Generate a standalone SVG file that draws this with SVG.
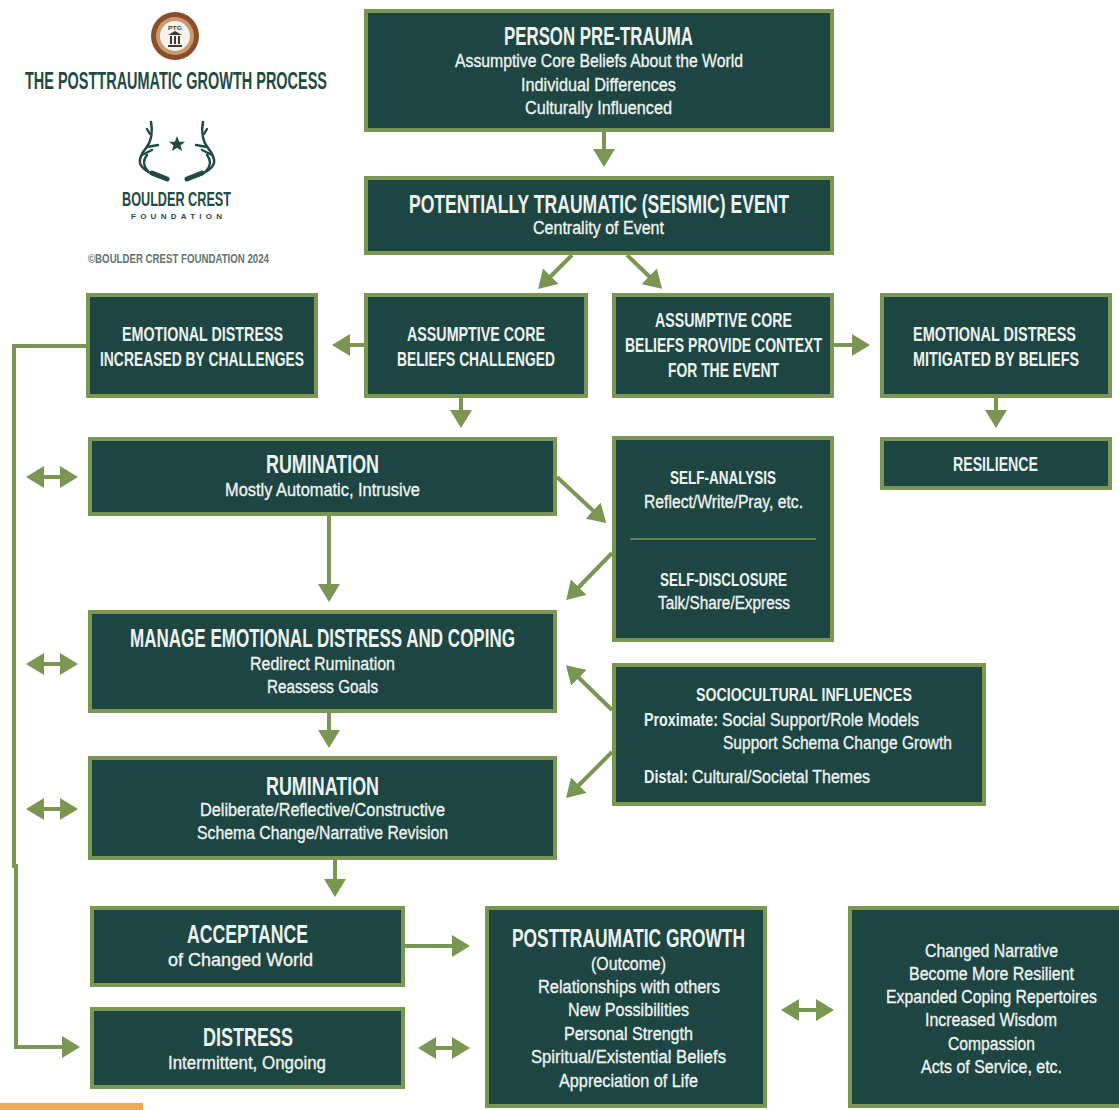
<svg xmlns="http://www.w3.org/2000/svg" width="1119" height="1110" viewBox="0 0 1119 1110">
<style>
.box{fill:#1d4541;stroke:#7b9553;stroke-width:4}
text{font-family:"Liberation Sans",Arial,sans-serif;fill:#eef3f0;text-anchor:start}
.h{font-weight:700;font-size:25px}
.m{font-weight:700;font-size:21px}
.s{font-size:19px;stroke:#eef3f0;stroke-width:.35px}
.b{font-weight:700;font-size:19px}
.l{fill:#1f4a45;font-weight:700}
.c{fill:none;stroke:#7b9553;stroke-width:4}
.ant{fill:none;stroke:#1f4a45;stroke-linecap:round}
</style>
<defs>
<marker id="a" markerUnits="userSpaceOnUse" markerWidth="18" markerHeight="22" refX="4" refY="11" orient="auto-start-reverse"><path d="M0 0L18 11L0 22Z" fill="#7b9553"/></marker>
<g id="antler">
<path class="ant" stroke-width="2.6" d="M151 122C153 132 151 142 146 148C142 153 139 158 140 163C142 170 152 175 166 179"/>
<path class="ant" stroke-width="5" d="M152 173L167 179"/>
<path class="ant" stroke-width="2.4" d="M147 147L158 145M150 134L147 129M142 155L152 150M148 171C143 166 143 160 147 155"/>
</g>
</defs>
<rect width="1119" height="1110" fill="#fff"/>
<g id="logo">
<circle cx="175" cy="36" r="24" fill="#8a4f28"/>
<circle cx="175" cy="36" r="19" fill="#c89a72"/>
<circle cx="175" cy="36" r="15" fill="#f5f3ee"/>
<path d="M168 47h14v-2h-14zM170 44h2v-8h-2zM174 44h2v-8h-2zM178 44h2v-8h-2zM168 35h14l-7-4z" fill="#3a3a3a"/>
<text x="168" y="30" class="l" textLength="14" lengthAdjust="spacingAndGlyphs" style="font-size:6px;fill:#444">PTG</text>
<text transform="matrix(.8 0 0 1 25 89)" class="l" style="font-size:23px" textLength="377.5" lengthAdjust="spacingAndGlyphs">THE POSTTRAUMATIC GROWTH PROCESS</text>
<use href="#antler"/>
<use href="#antler" transform="matrix(-1 0 0 1 354 0)"/>
<polygon points="177,136 179.2,141.8 185,141.8 180.5,145.5 182.2,151 177,147.7 171.8,151 173.5,145.5 169,141.8 174.8,141.8" fill="#1f4a45"/>
<text transform="matrix(.8 0 0 1 122 206)" class="l" style="font-size:20px" textLength="136.25" lengthAdjust="spacingAndGlyphs">BOULDER CREST</text>
<text x="131" y="219" class="l" style="font-size:8px" textLength="91" lengthAdjust="spacing">FOUNDATION</text>
<text transform="matrix(.8 0 0 1 88 263)" class="l" style="font-size:13px;fill:#64736f" textLength="226.25" lengthAdjust="spacingAndGlyphs">©BOULDER CREST FOUNDATION 2024</text>
</g>
<g id="connectors">
<path class="c" d="M604 132V153" marker-end="url(#a)"/>
<path class="c" d="M572 255L548 279" marker-end="url(#a)"/>
<path class="c" d="M627 255L652 279" marker-end="url(#a)"/>
<path class="c" d="M364 345H346" marker-end="url(#a)"/>
<path class="c" d="M834 345H856" marker-end="url(#a)"/>
<path class="c" d="M461 398V414" marker-end="url(#a)"/>
<path class="c" d="M996 398V414" marker-end="url(#a)"/>
<path class="c" d="M86 346H14V866H16V1047H66" marker-end="url(#a)"/>
<path class="c" d="M40 477H64" marker-start="url(#a)" marker-end="url(#a)"/>
<path class="c" d="M40 664H64" marker-start="url(#a)" marker-end="url(#a)"/>
<path class="c" d="M40 809H64" marker-start="url(#a)" marker-end="url(#a)"/>
<path class="c" d="M329 516V588" marker-end="url(#a)"/>
<path class="c" d="M557 477L596 513.4" marker-end="url(#a)"/>
<path class="c" d="M612 553L576 590" marker-end="url(#a)"/>
<path class="c" d="M612 710L576 675" marker-end="url(#a)"/>
<path class="c" d="M612 752L576 788" marker-end="url(#a)"/>
<path class="c" d="M329 713V734" marker-end="url(#a)"/>
<path class="c" d="M335 860V883" marker-end="url(#a)"/>
<path class="c" d="M405 946H456" marker-end="url(#a)"/>
<path class="c" d="M432 1048H456" marker-start="url(#a)" marker-end="url(#a)"/>
<path class="c" d="M795 1010H820" marker-start="url(#a)" marker-end="url(#a)"/>
</g>
<g id="n1"><rect class="box" x="366" y="11" width="466" height="119"/>
<text class="h" transform="matrix(.8 0 0 1 504 45)" textLength="236.25" lengthAdjust="spacingAndGlyphs">PERSON PRE-TRAUMA</text>
<text class="s" transform="matrix(.8 0 0 1 455 67)" textLength="360" lengthAdjust="spacingAndGlyphs">Assumptive Core Beliefs About the World</text>
<text class="s" transform="matrix(.8 0 0 1 521 91)" textLength="193.75" lengthAdjust="spacingAndGlyphs">Individual Differences</text>
<text class="s" transform="matrix(.8 0 0 1 525 114)" textLength="183.75" lengthAdjust="spacingAndGlyphs">Culturally Influenced</text></g>
<g id="n2"><rect class="box" x="366" y="178" width="466" height="75"/>
<text class="h" transform="matrix(.8 0 0 1 409 213)" textLength="475" lengthAdjust="spacingAndGlyphs">POTENTIALLY TRAUMATIC (SEISMIC) EVENT</text>
<text class="s" transform="matrix(.8 0 0 1 533 234)" textLength="163.75" lengthAdjust="spacingAndGlyphs">Centrality of Event</text></g>
<g id="n3"><rect class="box" x="88" y="295" width="228" height="101"/>
<text class="m" transform="matrix(.8 0 0 1 122 341)" textLength="201.25" lengthAdjust="spacingAndGlyphs">EMOTIONAL DISTRESS</text>
<text class="m" transform="matrix(.8 0 0 1 100 366)" textLength="255" lengthAdjust="spacingAndGlyphs">INCREASED BY CHALLENGES</text></g>
<g id="n4"><rect class="box" x="366" y="295" width="220" height="101"/>
<text class="m" transform="matrix(.8 0 0 1 407 341)" textLength="172.5" lengthAdjust="spacingAndGlyphs">ASSUMPTIVE CORE</text>
<text class="m" transform="matrix(.8 0 0 1 397 366)" textLength="197.5" lengthAdjust="spacingAndGlyphs">BELIEFS CHALLENGED</text></g>
<g id="n5"><rect class="box" x="614" y="295" width="218" height="101"/>
<text class="m" transform="matrix(.8 0 0 1 655 327)" textLength="171.25" lengthAdjust="spacingAndGlyphs">ASSUMPTIVE CORE</text>
<text class="m" transform="matrix(.8 0 0 1 625 352)" textLength="246.25" lengthAdjust="spacingAndGlyphs">BELIEFS PROVIDE CONTEXT</text>
<text class="m" transform="matrix(.8 0 0 1 668 377)" textLength="138.75" lengthAdjust="spacingAndGlyphs">FOR THE EVENT</text></g>
<g id="n6"><rect class="box" x="882" y="295" width="228" height="101"/>
<text class="m" transform="matrix(.8 0 0 1 913 341)" textLength="203.75" lengthAdjust="spacingAndGlyphs">EMOTIONAL DISTRESS</text>
<text class="m" transform="matrix(.8 0 0 1 913 366)" textLength="207.5" lengthAdjust="spacingAndGlyphs">MITIGATED BY BELIEFS</text></g>
<g id="n7"><rect class="box" x="90" y="439" width="465" height="75"/>
<text class="h" transform="matrix(.8 0 0 1 266 473)" textLength="141.25" lengthAdjust="spacingAndGlyphs">RUMINATION</text>
<text class="s" transform="matrix(.8 0 0 1 225 496)" textLength="243.75" lengthAdjust="spacingAndGlyphs">Mostly Automatic, Intrusive</text></g>
<g id="n8"><rect class="box" x="882" y="439" width="228" height="49"/>
<text class="m" transform="matrix(.8 0 0 1 953 471)" textLength="106.25" lengthAdjust="spacingAndGlyphs">RESILIENCE</text></g>
<g id="n9"><rect class="box" x="614" y="438" width="218" height="202"/>
<text class="b" transform="matrix(.8 0 0 1 670 484)" textLength="132.5" lengthAdjust="spacingAndGlyphs">SELF-ANALYSIS</text>
<text class="s" transform="matrix(.8 0 0 1 644 508)" textLength="198.75" lengthAdjust="spacingAndGlyphs">Reflect/Write/Pray, etc.</text>
<path d="M630 539H816" stroke="#7b9553" stroke-width="1.5" fill="none"/>
<text class="b" transform="matrix(.8 0 0 1 660 586)" textLength="158.75" lengthAdjust="spacingAndGlyphs">SELF-DISCLOSURE</text>
<text class="s" transform="matrix(.8 0 0 1 658 609)" textLength="165" lengthAdjust="spacingAndGlyphs">Talk/Share/Express</text></g>
<g id="n10"><rect class="box" x="90" y="612" width="465" height="99"/>
<text class="h" transform="matrix(.8 0 0 1 130 647)" textLength="481.25" lengthAdjust="spacingAndGlyphs">MANAGE EMOTIONAL DISTRESS AND COPING</text>
<text class="s" transform="matrix(.8 0 0 1 250 670)" textLength="181.25" lengthAdjust="spacingAndGlyphs">Redirect Rumination</text>
<text class="s" transform="matrix(.8 0 0 1 267 693)" textLength="138.75" lengthAdjust="spacingAndGlyphs">Reassess Goals</text></g>
<g id="n11"><rect class="box" x="614" y="665" width="370" height="139"/>
<text class="b" transform="matrix(.8 0 0 1 696 701)" textLength="270" lengthAdjust="spacingAndGlyphs">SOCIOCULTURAL INFLUENCES</text>
<text class="b" transform="matrix(.8 0 0 1 644 726)" textLength="92.5" lengthAdjust="spacingAndGlyphs">Proximate:</text>
<text class="s" transform="matrix(.8 0 0 1 722 726)" textLength="246.25" lengthAdjust="spacingAndGlyphs">Social Support/Role Models</text>
<text class="s" transform="matrix(.8 0 0 1 723 749)" textLength="286.25" lengthAdjust="spacingAndGlyphs">Support Schema Change Growth</text>
<text class="b" transform="matrix(.8 0 0 1 644 783)" textLength="55" lengthAdjust="spacingAndGlyphs">Distal:</text>
<text class="s" transform="matrix(.8 0 0 1 692 783)" textLength="222.5" lengthAdjust="spacingAndGlyphs">Cultural/Societal Themes</text></g>
<g id="n12"><rect class="box" x="90" y="758" width="465" height="100"/>
<text class="h" transform="matrix(.8 0 0 1 266 795)" textLength="141.25" lengthAdjust="spacingAndGlyphs">RUMINATION</text>
<text class="s" transform="matrix(.8 0 0 1 200 816)" textLength="306.25" lengthAdjust="spacingAndGlyphs">Deliberate/Reflective/Constructive</text>
<text class="s" transform="matrix(.8 0 0 1 197 839)" textLength="313.75" lengthAdjust="spacingAndGlyphs">Schema Change/Narrative Revision</text></g>
<g id="n13"><rect class="box" x="92" y="908" width="311" height="77"/>
<text class="h" transform="matrix(.8 0 0 1 187 943)" textLength="151.25" lengthAdjust="spacingAndGlyphs">ACCEPTANCE</text>
<text class="s" transform="matrix(.8 0 0 1 168 966)" textLength="181.25" lengthAdjust="spacingAndGlyphs">of Changed World</text></g>
<g id="n14"><rect class="box" x="92" y="1009" width="311" height="78"/>
<text class="h" transform="matrix(.8 0 0 1 203 1046)" textLength="112.5" lengthAdjust="spacingAndGlyphs">DISTRESS</text>
<text class="s" transform="matrix(.8 0 0 1 168 1069)" textLength="197.5" lengthAdjust="spacingAndGlyphs">Intermittent, Ongoing</text></g>
<g id="n15"><rect class="box" x="487" y="908" width="278" height="198"/>
<text class="h" transform="matrix(.8 0 0 1 512 947)" textLength="291.25" lengthAdjust="spacingAndGlyphs">POSTTRAUMATIC GROWTH</text>
<text class="s" transform="matrix(.8 0 0 1 591 970)" textLength="93.75" lengthAdjust="spacingAndGlyphs">(Outcome)</text>
<text class="s" transform="matrix(.8 0 0 1 538 993)" textLength="227.5" lengthAdjust="spacingAndGlyphs">Relationships with others</text>
<text class="s" transform="matrix(.8 0 0 1 568 1016)" textLength="151.25" lengthAdjust="spacingAndGlyphs">New Possibilities</text>
<text class="s" transform="matrix(.8 0 0 1 564 1040)" textLength="161.25" lengthAdjust="spacingAndGlyphs">Personal Strength</text>
<text class="s" transform="matrix(.8 0 0 1 531 1063)" textLength="243.75" lengthAdjust="spacingAndGlyphs">Spiritual/Existential Beliefs</text>
<text class="s" transform="matrix(.8 0 0 1 559 1087)" textLength="173.75" lengthAdjust="spacingAndGlyphs">Appreciation of Life</text></g>
<g id="n16"><rect class="box" x="850" y="908" width="275" height="198"/>
<text class="s" transform="matrix(.8 0 0 1 925 957)" textLength="166.25" lengthAdjust="spacingAndGlyphs">Changed Narrative</text>
<text class="s" transform="matrix(.8 0 0 1 909 980)" textLength="206.25" lengthAdjust="spacingAndGlyphs">Become More Resilient</text>
<text class="s" transform="matrix(.8 0 0 1 886 1003)" textLength="263.75" lengthAdjust="spacingAndGlyphs">Expanded Coping Repertoires</text>
<text class="s" transform="matrix(.8 0 0 1 925 1026)" textLength="165" lengthAdjust="spacingAndGlyphs">Increased Wisdom</text>
<text class="s" transform="matrix(.8 0 0 1 948 1050)" textLength="108.75" lengthAdjust="spacingAndGlyphs">Compassion</text>
<text class="s" transform="matrix(.8 0 0 1 921 1073)" textLength="176.25" lengthAdjust="spacingAndGlyphs">Acts of Service, etc.</text></g>
<rect x="0" y="1103" width="143" height="7" fill="#eda95a"/>
</svg>
